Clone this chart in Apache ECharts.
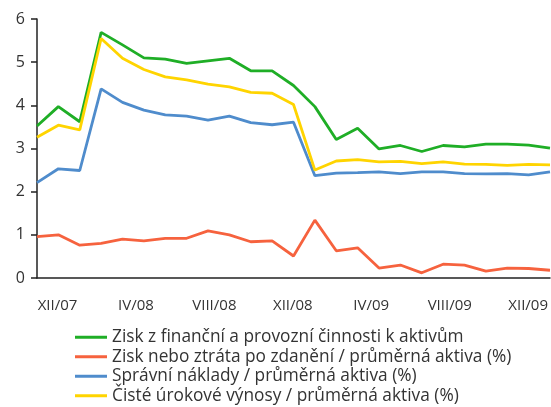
<!DOCTYPE html>
<html>
<head>
<meta charset="utf-8">
<script src="https://cdn.jsdelivr.net/npm/echarts@6/dist/echarts.min.js"></script>
<style>
html,body{margin:0;padding:0;background:#fff;}
#c{width:551px;height:407px;}
</style>
</head>
<body>
<div id="c"></div>
<script>
// Monthly categories XII/07 .. XII/09
const months = ['XII/07','I/08','II/08','III/08','IV/08','V/08','VI/08','VII/08','VIII/08','IX/08','X/08','XI/08','XII/08',
  'I/09','II/09','III/09','IV/09','V/09','VI/09','VII/09','VIII/09','IX/09','X/09','XI/09','XII/09'];
const tickLabels = ['XII/07','IV/08','VIII/08','XII/08','IV/09','VIII/09','XII/09'];
const yTicks = [0, 1, 2, 3, 4, 5, 6];

const seriesNames = [
  'Zisk z finanční a provozní činnosti k aktivům',
  'Zisk nebo ztráta po zdanění / průměrná aktiva (%)',
  'Správní náklady / průměrná aktiva (%)',
  'Čisté úrokové výnosy / průměrná aktiva (%)'
];
const zisk = [3.52,3.97,3.62,5.69,5.40,5.10,5.07,4.97,5.03,5.09,4.80,4.80,4.46,3.97,3.21,3.47,2.99,3.07,2.93,3.07,3.04,3.10,3.10,3.08,3.01];
const ztrata = [0.96,1.00,0.76,0.80,0.90,0.86,0.92,0.92,1.09,1.00,0.84,0.86,0.51,1.34,0.63,0.70,0.23,0.30,0.12,0.32,0.30,0.16,0.23,0.22,0.18];
const spravni = [2.21,2.53,2.49,4.38,4.07,3.89,3.78,3.75,3.66,3.75,3.60,3.55,3.61,2.37,2.43,2.44,2.46,2.42,2.46,2.46,2.42,2.41,2.42,2.39,2.46];
const urokove = [3.26,3.54,3.43,5.55,5.09,4.83,4.66,4.59,4.49,4.43,4.30,4.28,4.02,2.50,2.71,2.74,2.69,2.70,2.65,2.69,2.64,2.63,2.61,2.63,2.62];

const colors = ['#1fae26', '#f6623e', '#4f8ccc', '#ffd400'];
const FONT = '"Open Sans", "Noto Sans", sans-serif';

const chart = echarts.init(document.getElementById('c'), null, {renderer: 'canvas'});
const dataSets = [zisk, ztrata, spravni, urokove];

chart.setOption({
  animation: false,
  color: colors,
  grid: [
    {left: 37, right: 1, top: 19, bottom: 129, containLabel: false},
    {left: 57.5, right: 21, top: 19, bottom: 129, containLabel: false}
  ],
  legend: {
    orient: 'vertical',
    left: 75,
    top: 327.5,
    height: 79,
    padding: 0,
    itemWidth: 32,
    itemHeight: 3,
    itemGap: 0,
    icon: 'rect',
    data: seriesNames,
    textStyle: {fontFamily: FONT, fontSize: 17.3, color: '#333', lineHeight: 19.5}
  },
  xAxis: [
    {
      type: 'category', gridIndex: 0, data: months, boundaryGap: false,
      axisLine: {show: true, lineStyle: {color: '#222', width: 1.5}},
      axisTick: {show: false},
      axisLabel: {show: false},
      splitLine: {show: false}
    },
    {
      type: 'category', gridIndex: 1, data: tickLabels, boundaryGap: false,
      axisLine: {show: false}, axisTick: {show: false}, splitLine: {show: false},
      axisLabel: {show: true, interval: 0, margin: 20, fontFamily: FONT, fontSize: 15, color: '#333'}
    }
  ],
  yAxis: [
    {
      type: 'value', gridIndex: 0, min: yTicks[0], max: yTicks[yTicks.length - 1], interval: 1,
      axisLine: {show: true, lineStyle: {color: '#222', width: 1.5}},
      axisTick: {show: true, length: 6, lineStyle: {color: '#222', width: 1.5}},
      axisLabel: {margin: 12, fontFamily: FONT, fontSize: 16, color: '#333'},
      splitLine: {show: false}
    },
    {
      type: 'value', gridIndex: 1, min: 0, max: 6, interval: 1, show: false
    }
  ],
  series: dataSets.map((d, i) => ({
    name: seriesNames[i],
    type: 'line',
    xAxisIndex: 0, yAxisIndex: 0,
    data: d,
    symbol: 'none',
    lineStyle: {width: 2.8, color: colors[i]},
    itemStyle: {color: colors[i]},
    z: [3, 4, 2, 3][i]
  }))
});
</script>
</body>
</html>
